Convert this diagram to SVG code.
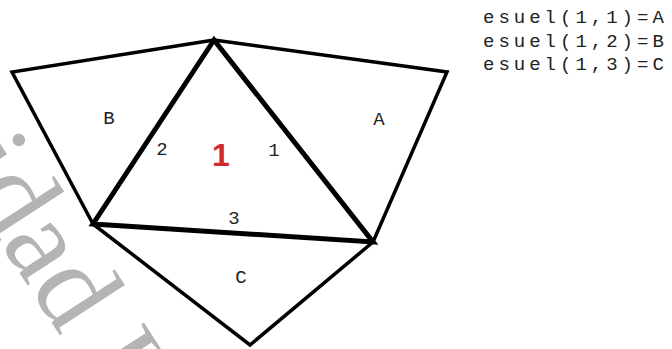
<svg xmlns="http://www.w3.org/2000/svg" width="672" height="349" viewBox="0 0 672 349">
  <style>
    .thin { fill: none; stroke: #000; stroke-width: 3.5; stroke-linejoin: miter; }
    .thick { fill: none; stroke: #000; stroke-width: 5; stroke-linejoin: miter; }
    .lbl { font-family: "Liberation Mono", "Courier New", monospace; font-size: 19px; fill: #222; text-anchor: middle; }
    .code { font-family: "Liberation Mono", "Courier New", monospace; font-size: 19px; fill: #222; letter-spacing: 4px; }
    .wm { font-family: "Liberation Serif", "Times New Roman", serif; font-size: 118px; fill: #b4b4b4; }
  </style>
  <rect width="672" height="349" fill="#fff"/>
  <text class="wm" transform="translate(-50,166) rotate(57)">idad I</text>
  <g id="connectors">
    <polyline class="thin" points="214,40 12,72 93,224"/>
    <polyline class="thin" points="214,40 447,72 373,242"/>
    <polyline class="thin" points="93,224 250,345 373,242"/>
    <polygon class="thick" points="214,40 93,224 373,242"/>
  </g>
  <g id="node-1"><text x="221" y="166" font-family="Liberation Sans, Arial, sans-serif" font-weight="bold" font-size="32" fill="#d22a2e" text-anchor="middle">1</text></g>
  <g id="node-A"><text class="lbl" x="379" y="125">A</text></g>
  <g id="node-B"><text class="lbl" x="109" y="124">B</text></g>
  <g id="node-C"><text class="lbl" x="241" y="283">C</text></g>
  <g id="edge-labels">
    <text class="lbl" x="162" y="155">2</text>
    <text class="lbl" x="274" y="156">1</text>
    <text class="lbl" x="234" y="224">3</text>
  </g>
  <g id="code">
    <text class="code" x="483" y="23">esuel(1,1)=A</text>
    <text class="code" x="483" y="47">esuel(1,2)=B</text>
    <text class="code" x="483" y="70">esuel(1,3)=C</text>
  </g>
</svg>
